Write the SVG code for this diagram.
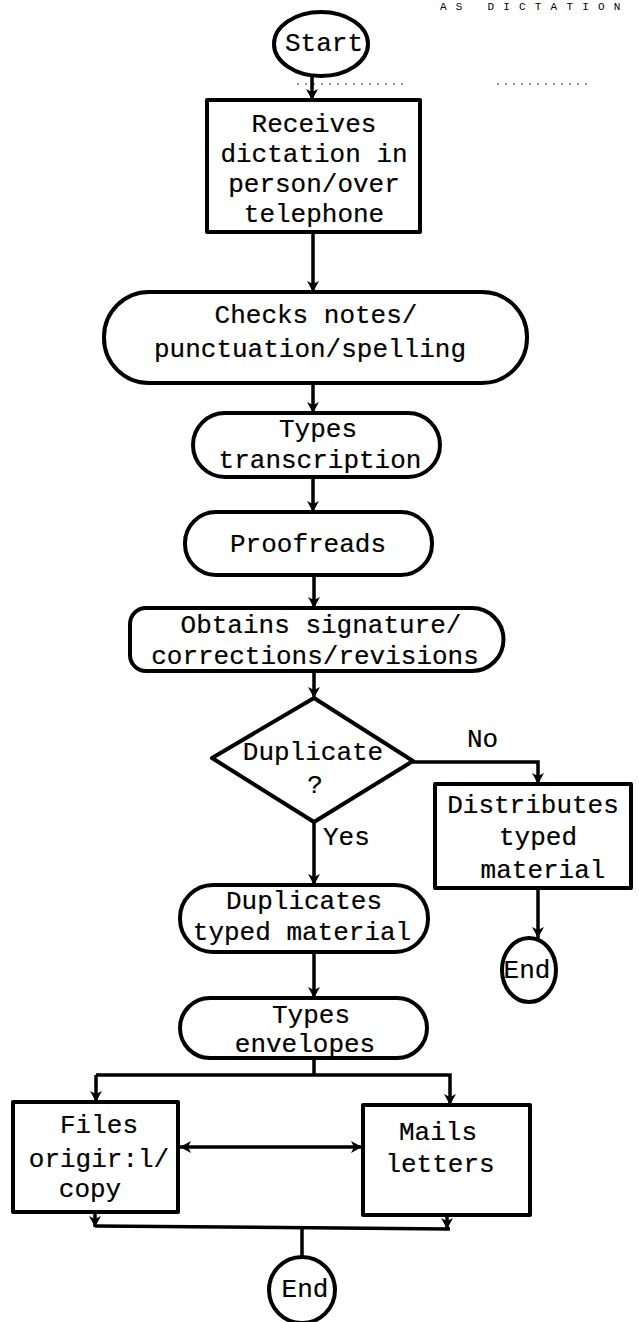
<svg xmlns="http://www.w3.org/2000/svg" width="639" height="1322" viewBox="0 0 639 1322">
  <style>
    .shape { fill: #fff; stroke: #000; stroke-width: 4; stroke-linejoin: round; }
    .edge { fill: none; stroke: #000; stroke-width: 3.5; }
    .lbl { font-family: "Liberation Mono", "DejaVu Sans Mono", monospace; font-size: 26px; fill: #000; stroke: #000; stroke-width: 0.2; text-anchor: middle; }
    .tag { font-family: "Liberation Mono", "DejaVu Sans Mono", monospace; font-size: 26px; fill: #000; stroke: #000; stroke-width: 0.2; }
    .head { font-family: "Liberation Mono", "DejaVu Sans Mono", monospace; font-size: 11px; letter-spacing: 9.2px; fill: #000; }
  </style>
  <defs>
    <marker id="head" viewBox="-1 -7 14 14" markerWidth="14" markerHeight="14" refX="11" refY="0" orient="auto-start-reverse" markerUnits="userSpaceOnUse">
      <path d="M0,-6 L11,0 L0,6 L3,0 Z" fill="#000"/>
    </marker>
  </defs>
  <rect width="639" height="1322" fill="#fff"/>

  <!-- page heading along the top edge -->
  <text class="head" x="440" y="10">AS DICTATION</text>
  <!-- faint dotted rule under the start terminal -->
  <path d="M297,84 H403 M497,84 H590" stroke="#777" stroke-width="1.5" stroke-dasharray="2 6" fill="none"/>

  <g id="connectors">
    <path class="edge" d="M312,76 V100" marker-end="url(#head)"/>
    <path class="edge" d="M313,232 V292" marker-end="url(#head)"/>
    <path class="edge" d="M313,383 V413" marker-end="url(#head)"/>
    <path class="edge" d="M313,477 V512" marker-end="url(#head)"/>
    <path class="edge" d="M314,575 V608" marker-end="url(#head)"/>
    <path class="edge" d="M314,671 V698" marker-end="url(#head)"/>
    <path class="edge" d="M413,762 H538 V784" marker-end="url(#head)"/>
    <text class="tag" x="467" y="747">No</text>
    <path class="edge" d="M538,888 V938" marker-end="url(#head)"/>
    <path class="edge" d="M314,822 V885" marker-end="url(#head)"/>
    <text class="tag" x="323" y="845">Yes</text>
    <path class="edge" d="M314,952 V998" marker-end="url(#head)"/>
    <path class="edge" d="M314,1058 V1075"/>
    <path class="edge" d="M96,1075 H450 V1105" marker-end="url(#head)"/>
    <path class="edge" d="M96,1075 V1102" marker-end="url(#head)"/>
    <path class="edge" d="M180,1147 H362" marker-start="url(#head)" marker-end="url(#head)"/>
    <path class="edge" d="M95,1212 V1227" marker-end="url(#head)"/>
    <path class="edge" d="M447,1215 V1229" marker-end="url(#head)"/>
    <path class="edge" d="M95,1226 L450,1229"/>
    <path class="edge" d="M302,1228 V1257"/>
  </g>

  <g id="start">
    <ellipse class="shape" cx="321" cy="44" rx="47" ry="32" stroke-width="5"/>
    <text class="lbl" x="324" y="51">Start</text>
  </g>

  <g id="receives">
    <rect class="shape" x="207" y="100" width="213" height="132"/>
    <text class="lbl" x="314" y="132">Receives</text>
    <text class="lbl" x="314" y="162">dictation in</text>
    <text class="lbl" x="314" y="192">person/over</text>
    <text class="lbl" x="314" y="222">telephone</text>
  </g>

  <g id="checks">
    <rect class="shape" x="104" y="292" width="423" height="91" rx="45"/>
    <text class="lbl" x="316" y="323">Checks notes/</text>
    <text class="lbl" x="310" y="357">punctuation/spelling</text>
  </g>

  <g id="types-transcription">
    <rect class="shape" x="193" y="413" width="247" height="64" rx="32"/>
    <text class="lbl" x="318" y="437">Types</text>
    <text class="lbl" x="320" y="468">transcription</text>
  </g>

  <g id="proofreads">
    <rect class="shape" x="185" y="512" width="247" height="63" rx="31"/>
    <text class="lbl" x="308" y="552">Proofreads</text>
  </g>

  <g id="obtains">
    <!-- squarer left end, round right end -->
    <path class="shape" d="M146,608 H472 A31.5,31.5 0 0 1 472,671 H146 A16,16 0 0 1 130,655 V624 A16,16 0 0 1 146,608 Z"/>
    <text class="lbl" x="321" y="633">Obtains signature/</text>
    <text class="lbl" x="315" y="664">corrections/revisions</text>
  </g>

  <g id="duplicate-decision">
    <polygon class="shape" points="314,698 413,761 314,822 212,758"/>
    <text class="lbl" x="313" y="760">Duplicate</text>
    <text class="lbl" x="315" y="793">?</text>
  </g>

  <g id="distributes">
    <rect class="shape" x="435" y="784" width="196" height="104"/>
    <text class="lbl" x="533" y="813">Distributes</text>
    <text class="lbl" x="538" y="845">typed</text>
    <text class="lbl" x="543" y="878">material</text>
  </g>

  <g id="end-right">
    <ellipse class="shape" cx="529" cy="970" rx="27" ry="32"/>
    <text class="lbl" x="527" y="978">End</text>
  </g>

  <g id="duplicates">
    <rect class="shape" x="180" y="885" width="248" height="67" rx="33"/>
    <text class="lbl" x="304" y="909">Duplicates</text>
    <text class="lbl" x="302" y="940">typed material</text>
  </g>

  <g id="types-envelopes">
    <rect class="shape" x="180" y="998" width="247" height="60" rx="30"/>
    <text class="lbl" x="311" y="1023">Types</text>
    <text class="lbl" x="305" y="1052">envelopes</text>
  </g>

  <g id="files">
    <rect class="shape" x="13" y="1102" width="165" height="110"/>
    <text class="lbl" x="99" y="1133">Files</text>
    <text class="lbl" x="99" y="1167">origir:l/</text>
    <text class="lbl" x="90" y="1197">copy</text>
  </g>

  <g id="mails">
    <rect class="shape" x="363" y="1105" width="167" height="110"/>
    <text class="lbl" x="438" y="1140">Mails</text>
    <text class="lbl" x="440" y="1172">letters</text>
  </g>

  <g id="end-bottom">
    <ellipse class="shape" cx="302" cy="1290" rx="33" ry="33"/>
    <text class="lbl" x="305" y="1297">End</text>
  </g>
</svg>
